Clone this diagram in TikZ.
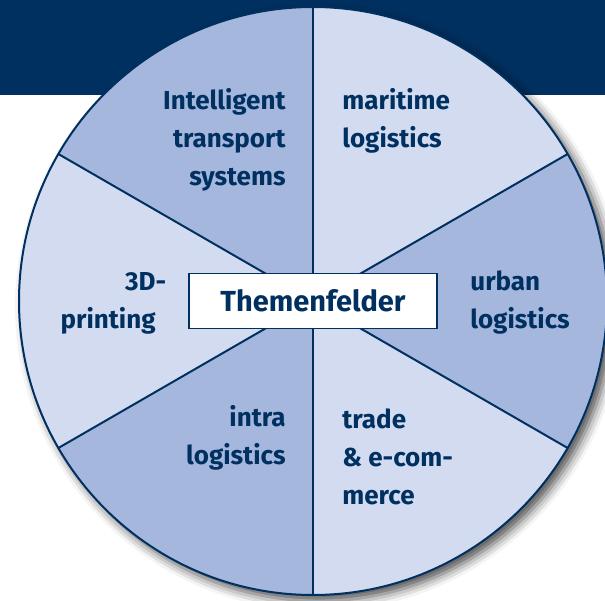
\documentclass[tikz,border=0pt]{standalone}
\usepackage{fontspec}
\setmainfont{Fira Sans}
\usetikzlibrary{shadows.blur}

\definecolor{navy}{RGB}{0,48,96}
\definecolor{sectdark}{RGB}{166,183,222}
\definecolor{sectlight}{RGB}{210,219,240}

\begin{document}
\begin{tikzpicture}[x=0.5pt,y=0.5pt,
    topic/.style={text=navy,inner sep=0pt,font=\bfseries\fontsize{13}{19}\selectfont},
    topicl/.style={topic,align=right,anchor=east},
    topicr/.style={topic,align=left,anchor=west}]
    \useasboundingbox (0,0) rectangle (605,600);
    \clip (0,0) rectangle (605,600);
    % band at the top
    \fill[navy] (0,505) rectangle (605,600);
    % the wheel
    \node[circle,minimum size=294pt,inner sep=0pt,outer sep=0pt,fill=sectlight,
      blur shadow={shadow xshift=3pt,shadow yshift=-3pt,shadow blur radius=5pt,shadow opacity=70}]
      (wheel) at (313,299) {};
    \foreach \a in {90,210,330}
      \fill[sectdark] (wheel.center) -- (wheel.\a) arc[start angle=\a,delta angle=60,radius=147pt] -- cycle;
    \foreach \a in {30,90,...,330}
      \draw[navy,line width=1pt] (wheel.center) -- (wheel.\a);
    \draw[navy,line width=1pt] (wheel.center) circle[radius=147pt];
    \node[draw=navy,line width=0.8pt,fill=white,minimum width=124pt,minimum height=27.5pt,
      text=navy,font=\bfseries\fontsize{14.5}{17}\selectfont] (theme) at (wheel.center) {Themenfelder};
    % the topics
    \node[topicl] (its) at (286,460) {Intelligent\\transport\\systems};
    \node[topicr] (maritime) at (342,479) {maritime\\logistics};
    \node[topicl] (printing) at (156,297) {3D\rlap{-}\\printing};
    \node[topicr] (urban) at (470,297) {urban\\logistics};
    \node[topicl] (intra) at (286,162) {intra\\logistics};
    \node[topicr] (trade) at (342,143) {trade\\\& e-com-\\merce};
\end{tikzpicture}
\end{document}
